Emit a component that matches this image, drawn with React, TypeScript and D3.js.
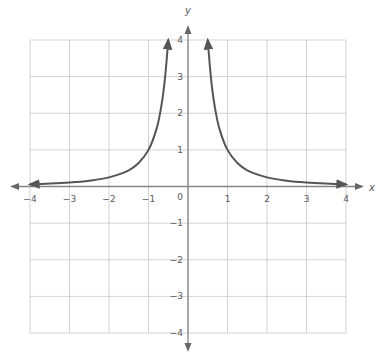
import React from "react";
import * as d3 from "d3";

const W = 380;
const H = 358;

// Tick values on both axes
const xTicks = [-4, -3, -2, -1, 1, 2, 3, 4];
const yTicks = [-4, -3, -2, -1, 1, 2, 3, 4];

// Sample points of the right branch of y = 1/x^2
const branchX = [0.5, 0.6, 0.7, 0.8, 1, 1.25, 1.5, 2, 2.5, 3, 3.5, 4];
const branchY = [4, 2.78, 2.04, 1.56, 1, 0.64, 0.44, 0.25, 0.16, 0.11, 0.08, 0.06];

export default function App() {
  const x = d3.scaleLinear().domain([-4, 4]).range([30, 346]);
  const y = d3.scaleLinear().domain([-4, 4]).range([333, 40]);

  const right = branchX.map((v, i) => [v, branchY[i]] as [number, number]);
  const left = right.map(([a, b]) => [-a, b] as [number, number]);

  const line = d3
    .line<[number, number]>()
    .x((d) => x(d[0]))
    .y((d) => y(d[1]))
    .curve(d3.curveCatmullRom.alpha(0.5));

  const gridVals = d3.range(-4, 5);
  const gridColor = "#d2d2d2";
  const axisColor = "#858585";
  const curveColor = "#555";
  const textColor = "#5a5a5a";

  return (
    <svg
      width={W}
      height={H}
      style={{ position: "absolute", left: 0, top: 0, background: "#fff" }}
      fontFamily="DejaVu Sans, sans-serif"
    >
      <defs>
        <marker id="ax" viewBox="0 0 10 10" refX="8" refY="5" markerWidth="7" markerHeight="7" orient="auto-start-reverse">
          <path d="M0,1 L10,5 L0,9 Z" fill="#666" />
        </marker>
        <marker id="cv" viewBox="0 0 10 10" refX="8" refY="5" markerWidth="6" markerHeight="6" orient="auto-start-reverse">
          <path d="M0,1 L10,5 L0,9 Z" fill={curveColor} />
        </marker>
      </defs>

      {/* grid */}
      {gridVals.map((v) => (
        <line key={"gx" + v} x1={x(v)} x2={x(v)} y1={y(4)} y2={y(-4)} stroke={gridColor} strokeWidth={1} />
      ))}
      {gridVals.map((v) => (
        <line key={"gy" + v} x1={x(-4)} x2={x(4)} y1={y(v)} y2={y(v)} stroke={gridColor} strokeWidth={1} />
      ))}

      {/* axes */}
      <line x1={12} x2={362} y1={y(0)} y2={y(0)} stroke={axisColor} strokeWidth={1.3} markerStart="url(#ax)" markerEnd="url(#ax)" />
      <line x1={x(0)} x2={x(0)} y1={27} y2={350} stroke={axisColor} strokeWidth={1.3} markerStart="url(#ax)" markerEnd="url(#ax)" />
      <text x={372} y={y(0) + 4} fontSize={10} fill={textColor} fontStyle="italic" textAnchor="middle">x</text>
      <text x={x(0)} y={14} fontSize={10} fill={textColor} fontStyle="italic" textAnchor="middle">y</text>

      {/* tick labels */}
      {xTicks.map((v) => (
        <text key={"tx" + v} x={x(v)} y={y(0) + 15} fontSize={9} fill={textColor} textAnchor="middle">
          {v < 0 ? "\u2212" + Math.abs(v) : v}
        </text>
      ))}
      {yTicks.map((v) => (
        <text key={"ty" + v} x={x(0) - 5} y={y(v) + 3} fontSize={9} fill={textColor} textAnchor="end">
          {v < 0 ? "\u2212" + Math.abs(v) : v}
        </text>
      ))}
      <text x={x(0) - 5} y={y(0) + 13} fontSize={9} fill={textColor} textAnchor="end">0</text>

      {/* the two branches */}
      <path d={line(right) || ""} fill="none" stroke={curveColor} strokeWidth={2} markerStart="url(#cv)" markerEnd="url(#cv)" />
      <path d={line(left) || ""} fill="none" stroke={curveColor} strokeWidth={2} markerStart="url(#cv)" markerEnd="url(#cv)" />
    </svg>
  );
}
